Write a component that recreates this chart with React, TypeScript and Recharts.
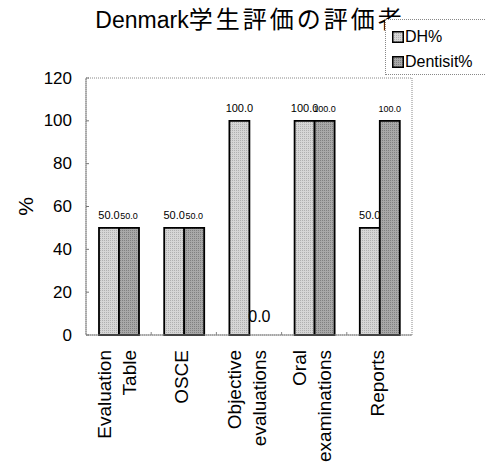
import React from "react";
import { BarChart, Bar, XAxis, YAxis, LabelList, ReferenceArea } from "recharts";

const categories = ["Evaluation\nTable", "OSCE", "Objective\nevaluations", "Oral\nexaminations", "Reports"];
const dhValues = [50, 50, 100, 100, 50];
const dentistValues = [50, 50, 0, 100, 100];
const yTicks = [0, 20, 40, 60, 80, 100, 120];
const seriesNames = ["DH%", "Dentisit%"];
const titleLatin = "Denmark";
const titleCJK = "学生評価の評価者";

const data = categories.map((c, i) => ({ name: c, dh: dhValues[i], dentist: dentistValues[i] }));

const FONT = "'Liberation Sans', Arial, sans-serif";

const XTick = (props: any) => {
  const { x, y, payload, width, visibleTicksCount, index } = props;
  const lines = String(payload.value).split("\n");
  const bw = width / visibleTicksCount;
  const gap = 25;
  return (
    <g>
      {index < visibleTicksCount - 1 && (
        <line x1={x + bw / 2} x2={x + bw / 2} y1={y} y2={y - 3} stroke="#888" />
      )}
      {lines.map((ln, i) => {
        const lx = x - 2 + (i - (lines.length - 1) / 2) * gap;
        const ly = y + 15;
        return (
          <text
            key={i}
            x={lx}
            y={ly}
            transform={`rotate(-90, ${lx}, ${ly})`}
            textAnchor="end"
            dominantBaseline="central"
            fontSize={19}
            fontFamily={FONT}
            fill="#000"
          >
            {ln}
          </text>
        );
      })}
    </g>
  );
};

const YTick = (props: any) => {
  const { x, y, payload } = props;
  return (
    <g>
      <line x1={x + 14} x2={x + 17} y1={y} y2={y} stroke="#777" />
      <text x={x} y={y} textAnchor="end" dominantBaseline="central" fontSize={17} fontFamily={FONT} fill="#000">
        {payload.value}
      </text>
    </g>
  );
};

const makeLabel = (size: number) => (props: any) => {
  const { x, y, width, value } = props;
  if (value === 0) return null;
  return (
    <text x={x + width / 2} y={y - 9} textAnchor="middle" fontSize={size} fontFamily={FONT} fill="#000">
      {Number(value).toFixed(1)}
    </text>
  );
};

// zero-valued Dentist bars have no rectangle; place their label beside the DH bar
const ZeroDentistLabel = (props: any) => {
  const { x, y, width, height, index } = props;
  const v = dentistValues[index];
  if (v !== 0) return null;
  return (
    <text x={x + width * 1.5} y={y + height - 13} textAnchor="middle" fontSize={16} fontFamily={FONT} fill="#000">
      {v.toFixed(1)}
    </text>
  );
};

export default function App() {
  return (
    <div style={{ position: "absolute", left: 0, top: 0, width: 486, height: 474, background: "#fff", overflow: "hidden" }}>
      <svg width={0} height={0} style={{ position: "absolute" }}>
        <defs>
          <pattern id="pat0" width="2" height="2" patternUnits="userSpaceOnUse">
            <rect width="2" height="2" fill="#d6d6d6" />
            <rect width="1" height="1" fill="#b0b0b0" />
          </pattern>
          <pattern id="pat1" width="2" height="2" patternUnits="userSpaceOnUse">
            <rect width="2" height="2" fill="#a8a8a8" />
            <rect width="1" height="1" fill="#808080" />
          </pattern>
        </defs>
      </svg>
      <svg width={486} height={44} style={{ position: "absolute", left: 0, top: 0 }}>
        <text x={250} y={28} textAnchor="middle" fontFamily={FONT} fill="#000">
          <tspan fontSize={23}>{titleLatin}</tspan>
          <tspan fontSize={24} fontFamily="'Noto Sans CJK JP', sans-serif" letterSpacing={3}>
            {titleCJK}
          </tspan>
        </text>
      </svg>
      <div style={{ position: "absolute", left: 0, top: 0 }}>
        <BarChart
          width={486}
          height={474}
          data={data}
          margin={{ top: 78, right: 74, bottom: 0, left: 0 }}
          barGap={0}
          barSize={20}
        >
          <ReferenceArea y1={0} y2={120} fill="none" stroke="#888" strokeDasharray="1 1" ifOverflow="visible" />
          <XAxis
            dataKey="name"
            height={139}
            axisLine={{ stroke: "#888" }}
            tickLine={false}
            tickSize={0}
            tickMargin={0}
            interval={0}
            tick={<XTick />}
          />
          <YAxis
            width={86}
            domain={[0, 120]}
            ticks={yTicks}
            axisLine={{ stroke: "#888" }}
            tickLine={false}
            tickSize={0}
            tickMargin={14}
            tick={<YTick />}
            label={{
              value: "%",
              angle: -90,
              position: "insideLeft",
              offset: 26,
              style: { fontSize: 21, fontFamily: FONT, fill: "#000", textAnchor: "middle" },
            }}
          />
          <Bar dataKey="dh" name={seriesNames[0]} fill="url(#pat0)" stroke="#000" strokeWidth={1.8} isAnimationActive={false}>
            <LabelList dataKey="dh" content={makeLabel(11)} />
            <LabelList dataKey="dh" content={<ZeroDentistLabel />} />
          </Bar>
          <Bar
            dataKey="dentist"
            name={seriesNames[1]}
            fill="url(#pat1)"
            stroke="#000"
            strokeWidth={1.8}
            isAnimationActive={false}
          >
            <LabelList dataKey="dentist" content={makeLabel(9)} />
          </Bar>
        </BarChart>
      </div>
      <div
        style={{
          position: "absolute",
          left: 385,
          top: 19,
          width: 120,
          height: 56,
          boxSizing: "border-box",
          border: "1px dotted #888",
          padding: "4px 0 0 6px",
          background: "#fff",
          fontFamily: FONT,
          fontSize: 16,
        }}
      >
        {seriesNames.map((n, i) => (
          <div key={i} style={{ display: "flex", alignItems: "center", height: 25 }}>
            <svg width={12} height={12} style={{ marginRight: 1 }}>
              <rect x={0.75} y={0.75} width={10.5} height={10.5} fill={`url(#pat${i})`} stroke="#000" strokeWidth={1.5} />
            </svg>
            <span>{n}</span>
          </div>
        ))}
      </div>
    </div>
  );
}
